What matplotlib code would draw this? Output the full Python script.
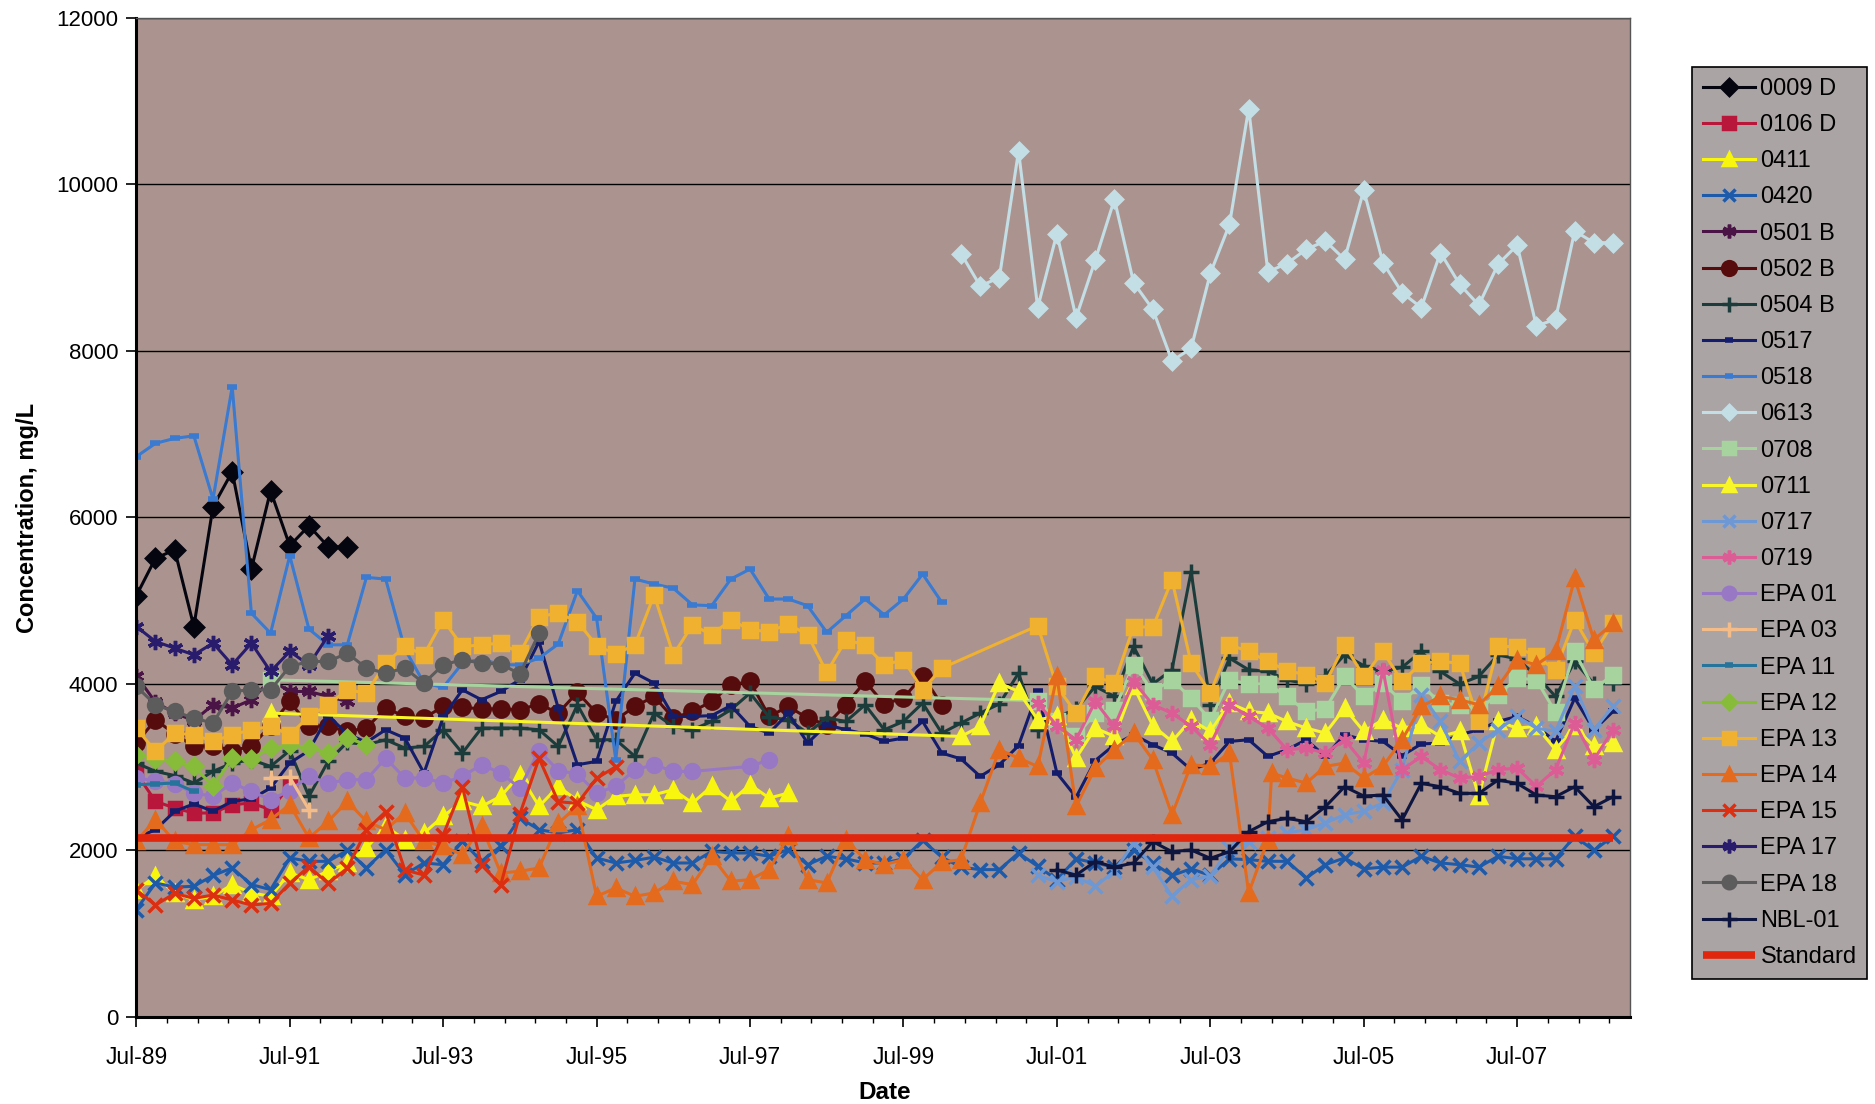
import numpy as np
import matplotlib
matplotlib.use("Agg")
import matplotlib.pyplot as plt

plt.rcParams['font.family'] = ['Liberation Sans', 'DejaVu Sans']


def quarters(start, n):
    # sampling dates are quarterly
    return list(start + 0.25 * np.arange(n))


# ---- data (decimal years, mg/L) ----
d_0009d = quarters(1989.5, 12)
v_0009d = [5060, 5510, 5610, 4690, 6130, 6550, 5380, 6320, 5660, 5900, 5650, 5640]

d_0106d = quarters(1989.5, 9)
v_0106d = [2930, 2590, 2510, 2450, 2450, 2550, 2570, 2490, 2780]

d_0411 = quarters(1989.5, 35)
v_0411 = [1525, 1690, 1490, 1410, 1450, 1590, 1490, 1450, 1730, 1650,
          1750, 1850, 2030, 2290, 2130, 2210, 2410, 2590, 2530, 2650,
          2910, 2530, 2770, 2600, 2490, 2650, 2670, 2670, 2730, 2570,
          2770, 2590, 2790, 2630, 2690]

d_0420 = quarters(1989.5, 78)
v_0420 = [1290, 1610, 1560, 1570, 1700, 1790, 1590, 1530, 1910, 1870,
          1870, 2000, 1790, 2010, 1710, 1850, 1830, 2110, 1870, 2050,
          2390, 2250, 2210, 2250, 1910, 1850, 1880, 1920, 1850, 1850,
          1990, 1970, 1970, 1930, 2010, 1830, 1930, 1900, 1850, 1850,
          1900, 2120, 1920, 1800, 1770, 1770, 1970, 1810, 1650, 1900,
          1850, 1800, 2000, 1850, 1700, 1780, 1700, 1900, 1890, 1870,
          1870, 1670, 1830, 1910, 1780, 1800, 1800, 1930, 1850, 1830,
          1800, 1930, 1900, 1900, 1900, 2170, 2000, 2170]

d_0501b = quarters(1989.5, 12)
v_0501b = [4100, 3780, 3650, 3560, 3750, 3710, 3810, 4050, 3910, 3910, 3850, 3790]

d_0502b = quarters(1989.5, 43)
v_0502b = [3290, 3570, 3400, 3250, 3260, 3200, 3250, 3500, 3790, 3500,
           3490, 3430, 3470, 3710, 3610, 3590, 3730, 3720, 3700, 3700,
           3690, 3760, 3650, 3900, 3650, 3570, 3730, 3850, 3590, 3670,
           3790, 3990, 4030, 3610, 3730, 3590, 3510, 3750, 4030, 3760,
           3830, 4100, 3750]

d_0504b = quarters(1989.5, 78)
v_0504b = [3050, 2950, 2900, 2810, 2950, 3050, 3090, 3010, 3200, 2650,
           3070, 3300, 3270, 3330, 3230, 3250, 3450, 3170, 3470, 3470,
           3470, 3450, 3250, 3750, 3330, 3330, 3130, 3650, 3490, 3450,
           3550, 3690, 3890, 3600, 3570, 3410, 3590, 3550, 3750, 3450,
           3550, 3770, 3410, 3530, 3650, 3760, 4130, 3450, 3600, 3700,
           3970, 3850, 4450, 4000, 4170, 5350, 3750, 4310, 4170, 4150,
           4050, 4000, 4100, 4350, 4220, 4150, 4200, 4390, 4150, 4000,
           4090, 4350, 4300, 4100, 3850, 4270, 4000, 4010]

d_0517 = quarters(1989.5, 78)
v_0517 = [2150, 2250, 2470, 2560, 2470, 2590, 2620, 2750, 3050, 3200,
          3620, 3400, 3300, 3450, 3350, 2930, 3600, 3930, 3810, 3910,
          4050, 4510, 3710, 3030, 3070, 3790, 4130, 4010, 3610, 3610,
          3620, 3740, 3490, 3410, 3650, 3290, 3510, 3450, 3400, 3310,
          3350, 3550, 3170, 3100, 2890, 3030, 3260, 3910, 2930, 2640,
          3080, 3270, 3390, 3270, 3170, 2970, 3050, 3310, 3330, 3130,
          3210, 3330, 3130, 3390, 3330, 3310, 3140, 3280, 3290, 3390,
          3450, 3550, 3610, 3490, 3310, 3830, 3450, 3670]

d_0518 = quarters(1989.5, 43)
v_0518 = [6730, 6890, 6950, 6980, 6220, 7570, 4850, 4610, 5540, 4660,
          4470, 4470, 5280, 5260, 4420, 4010, 3960, 4250, 4300, 4230,
          4230, 4310, 4480, 5120, 4790, 3090, 5260, 5200, 5150, 4950,
          4940, 5260, 5380, 5020, 5020, 4940, 4620, 4820, 5020, 4830,
          5020, 5320, 4980]

d_0613 = quarters(2000.25, 35)
v_0613 = [9170, 8780, 8880, 10400, 8520, 9410, 8400, 9090, 9820, 8820,
          8500, 7880, 8030, 8930, 9520, 10910, 8950, 9050, 9220, 9320,
          9100, 9930, 9060, 8700, 8520, 9180, 8800, 8550, 9040, 9270,
          8300, 8380, 9440, 9300, 9300]

d_0708 = [1991.25] + quarters(2001.25, 31)
v_0708 = [4050, 3800, 3550, 3370, 3650, 3690, 4230, 3910, 4050, 3830, 3570,
          4050, 4000, 4000, 3850, 3670, 3700, 4090, 3850, 4010, 3790,
          3990, 3770, 3750, 3700, 3870, 4070, 4050, 3660, 4390, 3940, 4110]

d_0711 = [1991.25] + quarters(2000.25, 35)
v_0711 = [3650, 3370, 3490, 4010, 3910, 3570, 3610, 3110, 3470, 3370, 3970,
          3500, 3310, 3570, 3430, 3770, 3670, 3650, 3550, 3470, 3410,
          3710, 3430, 3570, 3470, 3510, 3370, 3430, 2650, 3550, 3470,
          3490, 3210, 3490, 3250, 3290]

d_0717 = quarters(2001.25, 31)
v_0717 = [1700, 1625, 1685, 1570, 1750, 2090, 1800, 1450, 1650, 1690,
          2030, 2100, 2150, 2210, 2250, 2330, 2430, 2470, 2570, 2970,
          3870, 3550, 3070, 3290, 3450, 3610, 3470, 3430, 3970, 3450, 3730]

d_0719 = quarters(2001.25, 31)
v_0719 = [3770, 3500, 3330, 3790, 3490, 4030, 3750, 3650, 3490, 3270,
          3750, 3610, 3470, 3210, 3230, 3170, 3330, 3050, 4170, 2970,
          3130, 2970, 2870, 2890, 2970, 2990, 2770, 2970, 3530, 3090, 3450]

d_epa01 = quarters(1989.5, 30) + [1997.5, 1997.75]
v_epa01 = [2870, 2840, 2800, 2690, 2650, 2810, 2710, 2610, 2720, 2890,
           2810, 2850, 2850, 3110, 2870, 2870, 2810, 2890, 3030, 2930,
           2750, 3200, 2960, 2920, 2690, 2770, 2970, 3030, 2950, 2950,
           3010, 3090]

d_epa03 = quarters(1991.25, 3)
v_epa03 = [2870, 2880, 2490]

d_epa11 = quarters(1989.5, 4)
v_epa11 = [2790, 2800, 2810, 2710]

d_epa12 = quarters(1989.5, 13)
v_epa12 = [3150, 3100, 3070, 3010, 2770, 3110, 3100, 3230, 3270, 3230, 3170, 3350, 3270]

d_epa13 = quarters(1989.5, 43) + quarters(2001.25, 31)
v_epa13 = [3470, 3190, 3410, 3390, 3310, 3390, 3450, 3490, 3390, 3610,
           3750, 3930, 3890, 4250, 4450, 4350, 4770, 4450, 4470, 4490,
           4370, 4810, 4850, 4750, 4460, 4360, 4470, 5070, 4350, 4710,
           4590, 4770, 4650, 4630, 4720, 4590, 4140, 4530, 4470, 4230,
           4290, 3930, 4190,
           4700, 3970, 3650, 4090, 4010, 4690, 4680, 5250, 4250, 3890,
           4470, 4390, 4270, 4160, 4110, 4010, 4470, 4090, 4390, 4030,
           4250, 4270, 4250, 3550, 4460, 4440, 4330, 4170, 4770, 4370, 4730]

d_epa14 = quarters(1989.5, 60) + [2004.3] + quarters(2004.5, 18)
v_epa14 = [2110, 2370, 2110, 2070, 2070, 2070, 2250, 2370, 2550, 2150,
           2350, 2590, 2350, 2250, 2450, 2110, 2050, 1950, 2290, 1730,
           1750, 1790, 2330, 2530, 1450, 1550, 1450, 1490, 1630, 1590,
           1930, 1630, 1650, 1770, 2170, 1650, 1610, 2130, 1890, 1830,
           1890, 1650, 1860, 1890, 2570, 3210, 3110, 3010, 4090, 2530,
           2990, 3210, 3410, 3090, 2430, 3030, 3010, 3170, 1490, 2130,
           2930,
           2870, 2810, 3010, 3050, 2870, 3010, 3330, 3730, 3850, 3810,
           3750, 3970, 4290, 4230, 4390, 5270, 4530, 4730]

d_epa15 = quarters(1989.5, 26)
v_epa15 = [1525, 1345, 1485, 1425, 1465, 1405, 1345, 1365, 1606, 1806,
           1606, 1786, 2246, 2466, 1766, 1705, 2186, 2766, 1826, 1586,
           2440, 3107, 2586, 2566, 2867, 3006]

d_epa17 = quarters(1989.5, 11)
v_epa17 = [4690, 4510, 4430, 4350, 4490, 4230, 4490, 4150, 4390, 4230, 4580]

d_epa18 = quarters(1989.5, 22)
v_epa18 = [3970, 3750, 3670, 3590, 3530, 3910, 3930, 3930, 4210, 4270,
           4270, 4370, 4190, 4130, 4190, 4010, 4230, 4290, 4250, 4240, 4120, 4610]

d_nbl01 = quarters(2001.5, 30)
v_nbl01 = [1765, 1705, 1866, 1801, 1850, 2106, 1986, 2006, 1906, 1986,
           2226, 2346, 2386, 2346, 2526, 2766, 2654, 2666, 2366, 2806,
           2766, 2686, 2686, 2846, 2806, 2666, 2646, 2766, 2526, 2646]

d_standard = [1989.5, 2008.75]
v_standard = [2150, 2150]

tick_years = [1989.5 + 2 * k for k in range(10)]
tick_labels = ["Jul-89", "Jul-91", "Jul-93", "Jul-95", "Jul-97",
               "Jul-99", "Jul-01", "Jul-03", "Jul-05", "Jul-07"]

# ---- styles ----
ASTER = (6, 2, 0)
series = [
    ("0009 D", d_0009d, v_0009d, "#050510", "D", 9),
    ("0106 D", d_0106d, v_0106d, "#B8163A", "s", 9),
    ("0411", d_0411, v_0411, "#F8F50E", "^", 10),
    ("0420", d_0420, v_0420, "#1D5BAA", "x", 10),
    ("0501 B", d_0501b, v_0501b, "#4A1446", ASTER, 11),
    ("0502 B", d_0502b, v_0502b, "#560C0C", "o", 11),
    ("0504 B", d_0504b, v_0504b, "#1C3C3C", "+", 12),
    ("0517", d_0517, v_0517, "#141C6C", "_", 7),
    ("0518", d_0518, v_0518, "#3A7AD0", "_", 7),
    ("0613", d_0613, v_0613, "#C4DEE6", "D", 8),
    ("0708", d_0708, v_0708, "#A6D39E", "s", 10),
    ("0711", d_0711, v_0711, "#F8F528", "^", 10),
    ("0717", d_0717, v_0717, "#6E98D4", "x", 10),
    ("0719", d_0719, v_0719, "#DC5C96", ASTER, 11),
    ("EPA 01", d_epa01, v_epa01, "#9878C4", "o", 10),
    ("EPA 03", d_epa03, v_epa03, "#F4BC88", "+", 12),
    ("EPA 11", d_epa11, v_epa11, "#26749C", "_", 7),
    ("EPA 12", d_epa12, v_epa12, "#86BC3A", "D", 8),
    ("EPA 13", d_epa13, v_epa13, "#F0B030", "s", 10),
    ("EPA 14", d_epa14, v_epa14, "#E46A1E", "^", 10),
    ("EPA 15", d_epa15, v_epa15, "#DC2E10", "x", 10),
    ("EPA 17", d_epa17, v_epa17, "#2A1C6C", ASTER, 11),
    ("EPA 18", d_epa18, v_epa18, "#5C5C5C", "o", 10),
    ("NBL-01", d_nbl01, v_nbl01, "#0E1640", "+", 12),
]

fig = plt.figure(figsize=(18.75, 11.04), dpi=100)
ax = fig.add_axes([0.0727, 0.0788, 0.7966, 0.905])
ax.set_facecolor("#AB948F")

for name, d, v, c, m, ms in series:
    mew = 4 if m == "_" else 2.5
    ax.plot(d, v, color=c, lw=2.2, marker=m, ms=ms, mfc=c, mec=c, mew=mew, label=name)

ax.plot(d_standard, v_standard, color="#E0260C", lw=5.5, solid_capstyle="butt", label="Standard")

ax.set_ylim(0, 12000)
ax.set_yticks(range(0, 12001, 2000))
ax.set_xlim(1989.5, 2008.97)
ax.set_xticks(tick_years)
ax.set_xticklabels(tick_labels)
ax.set_xticks([1989.5 + 0.4 * k for k in range(49)], minor=True)
ax.yaxis.grid(True, color="black", lw=1)
ax.set_axisbelow(True)

ax.tick_params(axis="both", which="major", length=7, width=1.2, direction="out")
ax.tick_params(axis="x", which="major", labelsize=16.5, pad=14)
ax.tick_params(axis="y", which="major", labelsize=16, pad=6)
ax.tick_params(axis="x", which="minor", length=4, width=1, direction="out")

for s in ["left", "bottom"]:
    ax.spines[s].set_linewidth(2.2)
    ax.spines[s].set_color("black")
for s in ["top", "right"]:
    ax.spines[s].set_linewidth(1)
    ax.spines[s].set_color("#555555")

fig.text(0.0145, 0.531, "Concentration, mg/L", rotation=90, ha="center", va="center",
         fontsize=17, fontweight="bold")
fig.text(0.472, 0.010, "Date", ha="center", va="center", fontsize=17.5, fontweight="bold")

leg = fig.legend(loc="upper left", bbox_to_anchor=(0.9024, 0.939), fontsize=17,
                 handlelength=2.2, labelspacing=0.6, borderpad=0.45, handletextpad=0.25,
                 borderaxespad=0, fancybox=False, edgecolor="black", facecolor="#ABA4A5",
                 framealpha=1, markerscale=0.9)
leg.get_frame().set_linewidth(1.2)

fig.savefig("out.png", dpi=100)
